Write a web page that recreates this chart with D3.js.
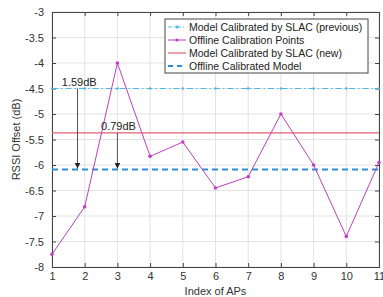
<!DOCTYPE html>
<html>
<head>
<meta charset="utf-8">
<script src="https://cdn.jsdelivr.net/npm/d3@7"></script>
<style>
  body { margin: 0; background: #fff; }
  text { font-family: "Liberation Sans", Arial, sans-serif; }
</style>
</head>
<body>
<svg id="chart" width="383" height="297"></svg>
<script>
// data
var apIndex = [1, 2, 3, 4, 5, 6, 7, 8, 9, 10, 11];
var offlinePoints = [-7.75, -6.82, -4.0, -5.83, -5.55, -6.45, -6.23, -5.0, -6.0, -7.4, -5.95];
var slacPrevious = -4.5;
var slacNew = -5.37;
var offlineModel = -6.09;
var xTicks = [1, 2, 3, 4, 5, 6, 7, 8, 9, 10, 11];
var yTicks = [-3, -3.5, -4, -4.5, -5, -5.5, -6, -6.5, -7, -7.5, -8];
var legendNames = ["Model Calibrated by SLAC (previous)", "Offline Calibration Points",
                   "Model Calibrated by SLAC (new)", "Offline Calibrated Model"];
var annotations = [
  {x: 1.78, from: slacPrevious, to: offlineModel, label: "1.59dB", lx: 1.3},
  {x: 3.0, from: slacNew, to: offlineModel, label: "0.79dB", lx: 2.5}
];

var svg = d3.select("#chart"),
    margin = {top: 12, right: 4, bottom: 30, left: 52},
    width = 379 - margin.left,
    height = 267 - margin.top;

var x = d3.scaleLinear().domain([1, 11]).range([0, width]);
var y = d3.scaleLinear().domain([-8, -3]).range([height, 0]);

var colPrev = "#4db8e8", colPts = "#c040c0", colNew = "#e06070", colModel = "#2e8fd8";

svg.append("defs").append("marker")
    .attr("id", "arrow")
    .attr("viewBox", "0 0 10 10")
    .attr("refX", 10).attr("refY", 5)
    .attr("markerWidth", 6).attr("markerHeight", 6)
    .attr("orient", "auto")
    .append("path").attr("d", "M0,0L10,5L0,10z").attr("fill", "#222");

var g = svg.append("g")
    .attr("transform", "translate(" + margin.left + "," + margin.top + ")");

// grid
g.append("g").selectAll("line").data(xTicks).enter().append("line")
    .attr("x1", d => x(d)).attr("x2", d => x(d))
    .attr("y1", 0).attr("y2", height)
    .attr("stroke", "#e3e3e3");
g.append("g").selectAll("line").data(yTicks).enter().append("line")
    .attr("y1", d => y(d)).attr("y2", d => y(d))
    .attr("x1", 0).attr("x2", width)
    .attr("stroke", "#e3e3e3");

// axes
g.append("g")
    .attr("transform", "translate(0," + height + ")")
    .call(d3.axisBottom(x).tickValues(xTicks).tickSize(-4).tickPadding(5).tickFormat(d3.format("d")));
g.append("g")
    .call(d3.axisLeft(y).tickValues(yTicks).tickSize(-4).tickPadding(8).tickFormat(d => d));
g.append("g")
    .call(d3.axisTop(x).tickValues(xTicks).tickSize(-4).tickFormat(""));
g.append("g")
    .attr("transform", "translate(" + width + ",0)")
    .call(d3.axisRight(y).tickValues(yTicks).tickSize(-4).tickFormat(""));
g.selectAll(".domain, .tick line").attr("stroke", "#444");
g.selectAll(".tick text").attr("font-size", 11).attr("fill", "#333")
    .style("font-family", "'Liberation Sans', Arial, sans-serif");

// horizontal model lines
g.append("line")
    .attr("x1", 0).attr("x2", width)
    .attr("y1", y(slacPrevious)).attr("y2", y(slacPrevious))
    .attr("stroke", colPrev).attr("stroke-width", 1)
    .attr("stroke-dasharray", "6,3,1.5,3");
g.append("g").selectAll("circle").data(apIndex).enter().append("circle")
    .attr("cx", d => x(d)).attr("cy", y(slacPrevious)).attr("r", 1.3)
    .attr("fill", colPrev);

g.append("line")
    .attr("x1", 0).attr("x2", width)
    .attr("y1", y(slacNew)).attr("y2", y(slacNew))
    .attr("stroke", colNew).attr("stroke-width", 1.2);

g.append("line")
    .attr("x1", 0).attr("x2", width)
    .attr("y1", y(offlineModel)).attr("y2", y(offlineModel))
    .attr("stroke", colModel).attr("stroke-width", 2)
    .attr("stroke-dasharray", "6,4");

// offline points
var line = d3.line().x((d, i) => x(apIndex[i])).y(d => y(d));
g.append("path").datum(offlinePoints)
    .attr("d", line).attr("fill", "none")
    .attr("stroke", colPts).attr("stroke-width", 1);
g.append("g").selectAll("circle").data(offlinePoints).enter().append("circle")
    .attr("cx", (d, i) => x(apIndex[i])).attr("cy", d => y(d)).attr("r", 1.8)
    .attr("fill", colPts);

// annotations
annotations.forEach(function(a) {
  g.append("line")
    .attr("x1", x(a.x)).attr("x2", x(a.x))
    .attr("y1", y(a.from)).attr("y2", y(a.to) - 1)
    .attr("stroke", "#555").attr("stroke-width", 1)
    .attr("marker-end", "url(#arrow)");
  g.append("text")
    .attr("x", x(a.lx)).attr("y", y(a.from) - 3)
    .attr("font-size", 11).attr("fill", "#222")
    .text(a.label);
});

// legend
var legend = svg.append("g").attr("transform", "translate(165,19)");
legend.append("rect")
    .attr("width", 203).attr("height", 54)
    .attr("fill", "#fff").attr("stroke", "#444");
var rows = legend.selectAll("g.row").data(legendNames).enter().append("g")
    .attr("class", "row")
    .attr("transform", (d, i) => "translate(0," + (8 + i * 13) + ")");
rows.append("text")
    .attr("x", 24).attr("y", 4)
    .attr("font-size", 10.5).attr("fill", "#222")
    .text(d => d);
var styles = [
  {c: colPrev, w: 1, dash: "4,2,1,2", dot: true},
  {c: colPts, w: 1, dash: null, dot: true},
  {c: colNew, w: 1.2, dash: null, dot: false},
  {c: colModel, w: 2, dash: "5,4", dot: false}
];
rows.each(function(d, i) {
  var s = styles[i], r = d3.select(this);
  r.append("line").attr("x1", 3).attr("x2", 21)
    .attr("stroke", s.c).attr("stroke-width", s.w)
    .attr("stroke-dasharray", s.dash);
  if (s.dot) r.append("circle").attr("cx", 12).attr("r", 1.6).attr("fill", s.c);
});

// axis labels
svg.append("text")
    .attr("x", margin.left + width / 2).attr("y", 295)
    .attr("text-anchor", "middle").attr("font-size", 11).attr("fill", "#333")
    .text("Index of APs");
svg.append("text")
    .attr("transform", "translate(20," + (margin.top + height / 2) + ")rotate(-90)")
    .attr("text-anchor", "middle").attr("font-size", 11).attr("fill", "#333")
    .text("RSSI Offset (dB)");
</script>
</body>
</html>
